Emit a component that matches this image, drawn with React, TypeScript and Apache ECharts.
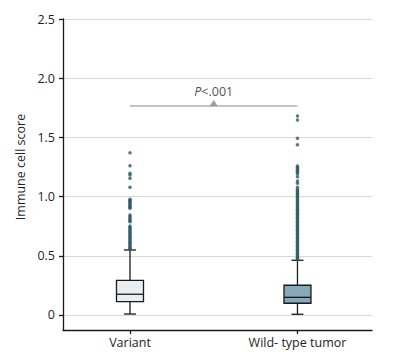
import React, { useEffect, useRef } from "react";
import * as echarts from "echarts";

const categories = ["Variant", "Wild- type tumor"];
const yTicks = [0, 0.5, 1, 1.5, 2, 2.5];

// [min, Q1, median, Q3, max]
const variantBox = [0.008, 0.113, 0.175, 0.293, 0.549];
const wildTypeBox = [0.006, 0.099, 0.149, 0.251, 0.462];

const variantOutliers = [
  1.371, 1.261, 1.197, 1.182, 1.154, 1.078,
  0.977, 0.968, 0.958, 0.949, 0.94, 0.93, 0.921, 0.91, 0.901,
  0.845, 0.832, 0.82, 0.806, 0.795, 0.788,
  0.752, 0.741, 0.731, 0.72, 0.71, 0.699, 0.688, 0.678, 0.667, 0.657, 0.646, 0.636,
  0.625, 0.614, 0.604, 0.593, 0.583, 0.572, 0.562, 0.555,
];

const wildTypeOutliers = [
  1.681, 1.647, 1.492, 1.438,
  1.258, 1.248, 1.237, 1.226, 1.215, 1.203, 1.191,
  1.168, 1.132, 1.112, 1.078,
  1.062, 1.05, 1.039, 1.028, 1.017, 1.005, 0.994, 0.983, 0.972, 0.96, 0.949, 0.938,
  0.927, 0.915, 0.904, 0.893, 0.882, 0.87, 0.859, 0.848, 0.837, 0.825, 0.814, 0.803,
  0.792, 0.78, 0.769, 0.758, 0.747, 0.735, 0.724, 0.713, 0.702, 0.69, 0.679, 0.668,
  0.657, 0.645, 0.634, 0.623, 0.612, 0.6, 0.589, 0.578, 0.567, 0.555, 0.544, 0.533,
  0.522, 0.51, 0.499, 0.488, 0.477, 0.47,
];

const bracketY = 1.765;
const pLabel = "P<.001";

const FONT = "Open Sans";
const INK = "#1a1a1a";
const TEXT = "#1e1e24";

export default function App() {
  const ref = useRef<HTMLDivElement>(null);
  useEffect(() => {
    if (!ref.current) return;
    const chart = echarts.init(ref.current, undefined, { renderer: "svg" });
    const fills = ["#e9eef2", "#88a9b8"];
    const boxes = [variantBox, wildTypeBox];
    const BOX_HALF = 13.5;
    const CAP_HALF = 6;
    chart.setOption({
      animation: false,
      grid: { left: 63, right: 23, top: 19, bottom: 29, containLabel: false },
      xAxis: {
        type: "value",
        min: -0.4,
        max: 1.445,
        axisLine: { onZero: false, lineStyle: { color: INK, width: 1.3 } },
        axisTick: { show: true, customValues: [0, 1], length: 4, lineStyle: { color: INK, width: 1.3 } },
        axisLabel: {
          customValues: [0, 1],
          formatter: (v: number) => categories[Math.round(v)] ?? "",
          color: TEXT,
          fontSize: 12.5,
          fontFamily: FONT,
          margin: 6,
        },
        splitLine: { show: false },
      },
      yAxis: {
        type: "value",
        min: -0.127,
        max: 2.5,
        name: "Immune cell score",
        nameLocation: "middle",
        nameGap: 36,
        nameTextStyle: { color: TEXT, fontSize: 12.5, fontFamily: FONT, padding: [0, 0, 0, 15] },
        axisLine: { show: true, onZero: false, lineStyle: { color: INK, width: 1.3 } },
        axisTick: { show: true, customValues: yTicks, length: 4, lineStyle: { color: INK, width: 1.3 } },
        axisLabel: {
          customValues: yTicks,
          formatter: (v: number) => (v === 0 ? "0" : v.toFixed(1)),
          color: TEXT,
          fontSize: 12.5,
          fontFamily: FONT,
          margin: 8,
        },
        splitLine: { show: true, lineStyle: { color: "#d9d9d9", width: 1.2 } },
      },
      series: [
        {
          type: "custom",
          data: boxes.map((b, i) => [i, ...b]),
          renderItem: (params: any, api: any) => {
            const x = api.value(0);
            const idx = params.dataIndex;
            const pMin = api.coord([x, api.value(1)]);
            const pQ1 = api.coord([x, api.value(2)]);
            const pMed = api.coord([x, api.value(3)]);
            const pQ3 = api.coord([x, api.value(4)]);
            const pMax = api.coord([x, api.value(5)]);
            const cx = pMin[0];
            const ls = { stroke: INK, lineWidth: 1.3 };
            return {
              type: "group",
              children: [
                { type: "line", shape: { x1: cx, y1: pMax[1], x2: cx, y2: pQ3[1] }, style: ls },
                { type: "line", shape: { x1: cx, y1: pQ1[1], x2: cx, y2: pMin[1] }, style: ls },
                { type: "line", shape: { x1: cx - CAP_HALF, y1: pMax[1], x2: cx + CAP_HALF, y2: pMax[1] }, style: ls },
                { type: "line", shape: { x1: cx - CAP_HALF, y1: pMin[1], x2: cx + CAP_HALF, y2: pMin[1] }, style: ls },
                {
                  type: "rect",
                  shape: { x: cx - BOX_HALF, y: pQ3[1], width: BOX_HALF * 2, height: pQ1[1] - pQ3[1] },
                  style: { fill: fills[idx], stroke: INK, lineWidth: 1.3 },
                },
                { type: "line", shape: { x1: cx - BOX_HALF, y1: pMed[1], x2: cx + BOX_HALF, y2: pMed[1] }, style: ls },
              ],
            };
          },
          z: 2,
        },
        {
          type: "scatter",
          symbol: "circle",
          symbolSize: 3.5,
          itemStyle: { color: "#2d5a67" },
          data: [
            ...variantOutliers.map((v) => [0, v]),
            ...wildTypeOutliers.map((v) => [1, v]),
          ],
          z: 4,
        },
        {
          type: "line",
          data: [[0, bracketY], [1, bracketY]],
          showSymbol: false,
          symbol: "none",
          lineStyle: { color: "#8a8a8a", width: 1.2 },
          z: 5,
        },
        {
          type: "scatter",
          symbol: "triangle",
          symbolSize: [8, 6],
          symbolOffset: [0, -3],
          itemStyle: { color: "#8a8a8a" },
          data: [[0.5, bracketY]],
          label: {
            show: true,
            position: "top",
            distance: 2,
            formatter: "{i|P}<.001",
            color: TEXT,
            fontSize: 12.5,
            fontFamily: FONT,
            rich: { i: { fontStyle: "italic", fontSize: 12.5, fontFamily: FONT, color: TEXT } },
          },
          z: 6,
        },
      ],
    });
    return () => chart.dispose();
  }, []);
  return (
    <div
      ref={ref}
      aria-label={pLabel}
      style={{ position: "absolute", left: 0, top: 0, width: 395, height: 359, background: "#fff" }}
    />
  );
}
